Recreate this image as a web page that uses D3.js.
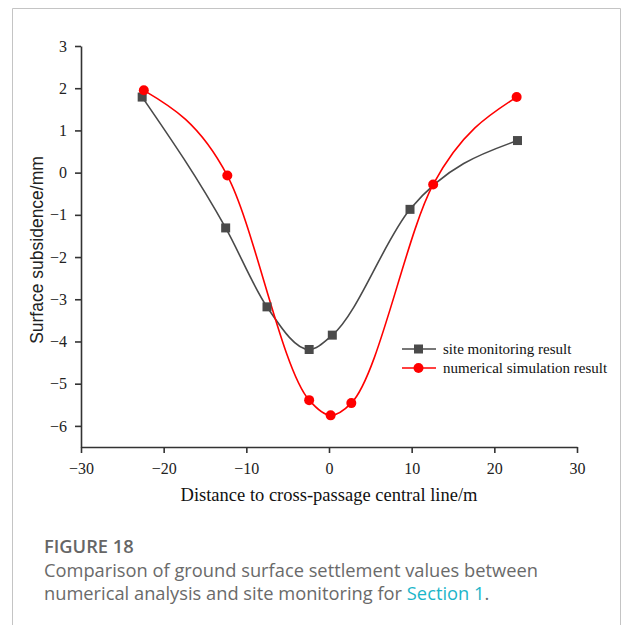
<!DOCTYPE html>
<html>
  <head>
    <title>Figure 18</title>
    <script src="https://d3js.org/d3.v7.min.js"></script>
    <style>
      body { margin: 0; background: #fff; }
    </style>
  </head>
  <body>
    <div id="chart"></div>

    <script>
      // distance (m) and subsidence (mm)
      const siteX = [-22.6, -12.5, -7.5, -2.4, 0.4, 9.8, 22.8];
      const siteY = [1.79, -1.31, -3.18, -4.19, -3.85, -0.87, 0.76];
      const simX = [-22.4, -12.3, -2.4, 0.2, 2.7, 12.6, 22.7];
      const simY = [1.95, -0.07, -5.39, -5.75, -5.46, -0.28, 1.79];
      const xTicks = [-30, -20, -10, 0, 10, 20, 30];
      const yTicks = [-6, -5, -4, -3, -2, -1, 0, 1, 2, 3];

      const svg = d3.select("#chart").append("svg").attr("width", 625).attr("height", 625);

      // card frame
      svg.append("path")
        .attr("d", "M12.5,630V8.5H620.5V630")
        .attr("fill", "none")
        .attr("stroke", "#c4c4c4")
        .attr("stroke-width", 1);

      const x = d3.scaleLinear().domain([-30, 30]).range([81, 577]);
      const y = d3.scaleLinear().domain([-6.5, 3]).range([447, 46]);

      const serif = "'Liberation Serif', 'Times New Roman', serif";
      const fmt = d => d < 0 ? "\u2212" + (-d) : d;

      // x axis
      const gx = svg.append("g").attr("transform", "translate(0,447)");
      gx.call(d3.axisBottom(x).tickValues(d3.range(-30, 31, 5)).tickFormat("").tickSize(3).tickSizeOuter(0));
      gx.call(d3.axisBottom(x).tickValues(xTicks).tickFormat(fmt).tickSize(6).tickSizeOuter(0));
      gx.selectAll("text").attr("font-family", serif).attr("font-size", 16).attr("fill", "#222").attr("dy", "1.15em");

      // y axis
      const gy = svg.append("g").attr("transform", "translate(81,0)");
      gy.call(d3.axisLeft(y).tickValues(d3.range(-6.5, 3.01, 0.5)).tickFormat("").tickSize(3).tickSizeOuter(0));
      gy.call(d3.axisLeft(y).tickValues(yTicks).tickFormat(fmt).tickSize(6).tickSizeOuter(0));
      gy.selectAll("text").attr("font-family", serif).attr("font-size", 16).attr("fill", "#222").attr("x", -14);

      svg.selectAll(".domain, .tick line").attr("stroke", "#333").attr("stroke-width", 1.6);

      // axis titles
      svg.append("text")
        .attr("x", 329).attr("y", 501)
        .attr("text-anchor", "middle")
        .attr("font-family", serif).attr("font-size", 18.5).attr("fill", "#111")
        .text("Distance to cross-passage central line/m");

      svg.append("text")
        .attr("transform", "translate(43,250) rotate(-90)")
        .attr("text-anchor", "middle")
        .attr("font-family", "'Liberation Sans', Arial, sans-serif").attr("font-size", 17.5).attr("fill", "#222")
        .text("Surface subsidence/mm");

      // curves
      const line = d3.line().x(d => x(d[0])).y(d => y(d[1])).curve(d3.curveMonotoneX);
      const site = d3.zip(siteX, siteY);
      const sim = d3.zip(simX, simY);

      svg.append("path").datum(site).attr("d", line)
        .attr("fill", "none").attr("stroke", "#4a4a4a").attr("stroke-width", 1.6);
      svg.append("path").datum(sim).attr("d", line)
        .attr("fill", "none").attr("stroke", "#ff0000").attr("stroke-width", 1.6);

      svg.selectAll(".sq").data(site).enter().append("rect")
        .attr("x", d => x(d[0]) - 4.5).attr("y", d => y(d[1]) - 4.5)
        .attr("width", 9).attr("height", 9)
        .attr("fill", "#4a4a4a");
      svg.selectAll(".dot").data(sim).enter().append("circle")
        .attr("cx", d => x(d[0])).attr("cy", d => y(d[1]))
        .attr("r", 5)
        .attr("fill", "#ff0000");

      // legend
      const legend = [
        { name: "site monitoring result", color: "#4a4a4a", shape: "square" },
        { name: "numerical simulation result", color: "#ff0000", shape: "circle" }
      ];
      const lg = svg.append("g").selectAll("g").data(legend).enter().append("g")
        .attr("transform", (d, i) => `translate(402,${349 + i * 19})`);
      lg.append("line").attr("x1", 0).attr("x2", 34).attr("stroke", d => d.color).attr("stroke-width", 1.6);
      lg.filter(d => d.shape === "square").append("rect")
        .attr("x", 12).attr("y", -4.5).attr("width", 9).attr("height", 9).attr("fill", d => d.color);
      lg.filter(d => d.shape === "circle").append("circle")
        .attr("cx", 16.5).attr("r", 5).attr("fill", d => d.color);
      lg.append("text").attr("x", 41).attr("y", 5)
        .attr("font-family", serif).attr("font-size", 15).attr("fill", "#111")
        .text(d => d.name);

      // caption
      const sans = "'Open Sans', Lato, sans-serif";
      svg.append("text")
        .attr("x", 44).attr("y", 553)
        .attr("font-family", sans).attr("font-size", 18.3).attr("font-weight", 600).attr("fill", "#666")
        .text("FIGURE 18");
      const cap = svg.append("text")
        .attr("font-family", sans).attr("font-size", 18.3).attr("fill", "#6a6a6a");
      cap.append("tspan").attr("x", 44).attr("y", 577)
        .text("Comparison of ground surface settlement values between");
      cap.append("tspan").attr("x", 44).attr("y", 600)
        .text("numerical analysis and site monitoring for ");
      cap.append("tspan").attr("fill", "#1bb5c9").text("Section 1");
      cap.append("tspan").text(".");
    </script>
  </body>
</html>
